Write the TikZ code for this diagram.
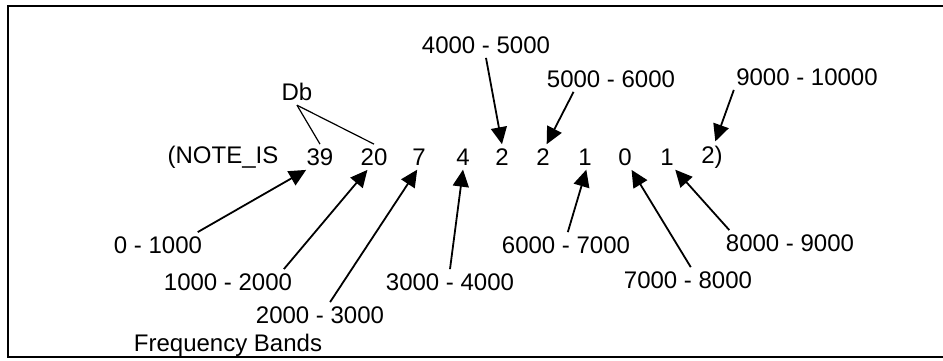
\documentclass[tikz,border=0pt]{standalone}
\usepackage{fontspec}
\setmainfont{Liberation Sans}
\usetikzlibrary{arrows.meta}

\begin{document}
\begin{tikzpicture}[
      x=0.5pt, y=-0.5pt,
      font=\fontsize{12}{14}\selectfont,
      value/.style={inner sep=2pt},
      band/.style={inner sep=2pt},
      point/.style={-{Triangle[length=8.5pt,width=8pt]}, draw=black, line width=0.9pt},
      tie/.style={draw=black, line width=0.6pt}
    ]
    \useasboundingbox (0,0) rectangle (943,360);

    % Frame
    \draw[line width=1pt] (943,6) -- (8,6) -- (8,357) -- (943,357);

    % Value nodes
    \node[value] (noteis) at (223,157) {(NOTE\_IS};
    \node[value] (v39) at (320,157) {39};
    \node[value] (v20) at (374,157) {20};
    \node[value] (v7) at (419,157) {7};
    \node[value] (v4) at (463,157) {4};
    \node[value] (v2a) at (502,157) {2};
    \node[value] (v2b) at (543,157) {2};
    \node[value] (v1a) at (585,157) {1};
    \node[value] (v0) at (625,157) {0};
    \node[value] (v1b) at (667,157) {1};
    \node[value] (v2c) at (712,157) {2)};

    % Db label
    \node[band] (db) at (297,92) {Db};

    % Frequency band labels
    \node[band] (b0) at (158,245) {0 - 1000};
    \node[band] (b1) at (228,282) {1000 - 2000};
    \node[band] (b2) at (320,315) {2000 - 3000};
    \node[band] (b3) at (450,282) {3000 - 4000};
    \node[band] (b4) at (486,45) {4000 - 5000};
    \node[band] (b5) at (611,79) {5000 - 6000};
    \node[band] (b6) at (566,245) {6000 - 7000};
    \node[band] (b7) at (688,280) {7000 - 8000};
    \node[band] (b8) at (790,243) {8000 - 9000};
    \node[band] (b9) at (807,77) {9000 - 10000};
    \node[band] (freq) at (228,345) {Frequency Bands};

    % Db ties
    \draw[tie] (db.south) -- (v39.north);
    \draw[tie] (db.south) -- (v20.north);

    % Band arrows
    \draw[point] (b0.18) -- (v39.223);
    \draw[point] (b1.13) -- (v20.243);
    \draw[point] (b2.52) -- (v7.262);
    \draw[point] (b3.north) -- (v4.south);
    \draw[point] (b4.south) -- (v2a.north);
    \draw[point] (b5.199) -- (v2b.74);
    \draw[point] (b6.82) -- (v1a.276);
    \draw[point] (b7.78) -- (v0.297);
    \draw[point] (b8.168) -- (v1b.303);
    \draw[point] (b9.190) -- (v2c.78);

  \end{tikzpicture}
\end{document}
